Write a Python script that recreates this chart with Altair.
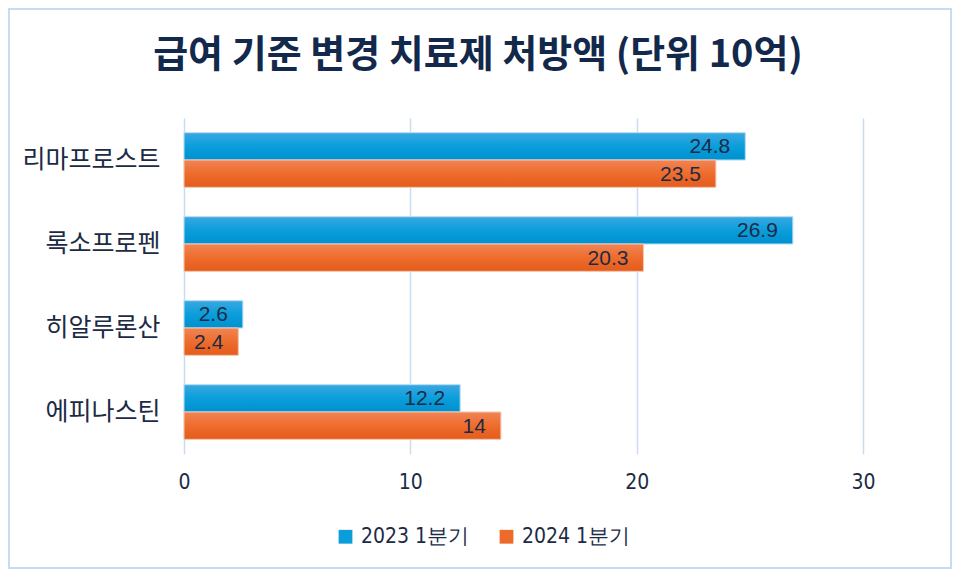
import altair as alt
import pandas as pd

categories = ["리마프로스트", "록소프로펜", "히알루론산", "에피나스틴"]
series = ["2023 1분기", "2024 1분기"]
v2023 = [24.8, 26.9, 2.6, 12.2]
v2024 = [23.5, 20.3, 2.4, 14]
x_ticks = [0, 10, 20, 30]
title_text = "급여 기준 변경 치료제 처방액 (단위 10억)"

rows = []
for c, a, b in zip(categories, v2023, v2024):
    rows.append({"cat": c, "series": series[0], "value": a, "label": f"{a:g}"})
    rows.append({"cat": c, "series": series[1], "value": b, "label": f"{b:g}"})
df = pd.DataFrame(rows)

FONT = "Noto Sans CJK KR"
NUMFONT = "DejaVu Sans Condensed, Liberation Sans"
TXT = "#1C2B45"
BLUE = "#0A9DD9"
ORANGE = "#EC6A2A"

base = alt.Chart(df)

y_enc = alt.Y("cat:N", sort=categories, title=None,
              scale=alt.Scale(paddingInner=0.35, paddingOuter=0.175),
              axis=alt.Axis(domain=False, ticks=False, labelPadding=24,
                            labelFontSize=25, labelColor=TXT, labelFont=FONT,
                            grid=False))
x_enc = alt.X("value:Q", title=None,
              scale=alt.Scale(domain=[0, 30], nice=False),
              axis=alt.Axis(values=x_ticks, domain=False, ticks=False, labelFlush=False,
                            labelPadding=17, labelFontSize=21, labelColor=TXT,
                            labelFont=NUMFONT, gridColor="#CADDF0", gridWidth=1.5))
yoff = alt.YOffset("series:N", sort=series, scale=alt.Scale(paddingInner=0, paddingOuter=0))

bars = base.mark_bar(stroke="#D6EAF7", strokeWidth=1, strokeOpacity=0.7).encode(
    x=x_enc, y=y_enc, yOffset=yoff,
    color=alt.Color("series:N", sort=series,
                    scale=alt.Scale(domain=series, range=[BLUE, ORANGE]),
                    legend=alt.Legend(title=None, orient="none", direction="horizontal",
                                      legendX=151, legendY=408,
                                      symbolType="square", symbolSize=190,
                                      symbolStrokeWidth=0,
                                      labelFontSize=21, labelColor=TXT, labelFont=NUMFONT,
                                      labelOffset=5, columnPadding=26)),
)

def grad(top, mid, bottom):
    return alt.Gradient(gradient="linear", x1=0, x2=0, y1=0, y2=1,
                        stops=[alt.GradientStop(color=top, offset=0),
                               alt.GradientStop(color=mid, offset=0.5),
                               alt.GradientStop(color=bottom, offset=1)])

g_blue = base.transform_filter(alt.datum.series == series[0]).mark_bar(
    fill=grad("#3AA8E1", "#0A9EDB", "#0090CF"), stroke="#BFE0F4", strokeWidth=1).encode(
    x="value:Q", y=alt.Y("cat:N", sort=categories), yOffset=yoff)
g_orange = base.transform_filter(alt.datum.series == series[1]).mark_bar(
    fill=grad("#F08556", "#EE6C2C", "#E45C1C"), stroke="#F8C9B0", strokeWidth=1).encode(
    x="value:Q", y=alt.Y("cat:N", sort=categories), yOffset=yoff)

labels = base.mark_text(align="right", baseline="middle", dx=-15, dy=1,
                        fontSize=21, font="Liberation Sans", color=TXT).encode(
    x="value:Q", y=alt.Y("cat:N", sort=categories), yOffset=yoff, text="label:N")

deco = alt.Chart(pd.DataFrame({"t": [title_text]}))
border = deco.mark_rect(fill=None, stroke="#C8DCF0", strokeWidth=2).encode(
    x=alt.value(-175), x2=alt.value(679 + 88), y=alt.value(-109), y2=alt.value(336 + 114))
title = deco.mark_text(align="center", baseline="middle", fontSize=38, fontWeight="bold",
                       font=FONT, color="#13294B").encode(
    x=alt.value(478 - 184), y=alt.value(56 - 118), text="t:N")

chart = alt.layer(bars, g_blue, g_orange, labels, border, title).properties(
    width=679, height=336,
    padding={"left": 176, "top": 110, "right": 89, "bottom": 115},
    autosize=alt.AutoSizeParams(type="none"),
).configure(background="white").configure_view(stroke=None)

chart.save("out.html", embed_options={"renderer": "svg", "actions": False})
